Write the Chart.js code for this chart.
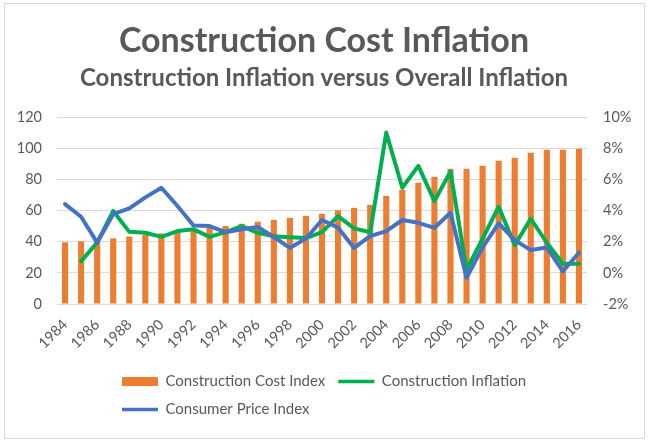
<!DOCTYPE html>
<html>
<head>
<meta charset="utf-8">
<title>Construction Cost Inflation</title>
<script src="https://cdn.jsdelivr.net/npm/chart.js@4.4.1/dist/chart.umd.min.js"></script>
<style>
  html, body { margin: 0; padding: 0; background: #fff; }
  #wrap { position: relative; width: 648px; height: 442px; }
  #frame {
    position: absolute; left: 4px; top: 3px; width: 639px; height: 434px;
    border: 1px solid #d9d9d9; pointer-events: none;
  }
</style>
</head>
<body>
<div id="wrap">
  <canvas id="costChart" width="648" height="442"></canvas>
  <div id="frame"></div>
</div>
<script>
const years = [
  "1984", "1985", "1986", "1987", "1988", "1989", "1990", "1991", "1992", "1993", "1994",
  "1995", "1996", "1997", "1998", "1999", "2000", "2001", "2002", "2003", "2004", "2005",
  "2006", "2007", "2008", "2009", "2010", "2011", "2012", "2013", "2014", "2015", "2016"
];

// Construction Cost Index (left axis)
const costIndex = [
  39.6, 40.2, 41.1, 42.1, 43.3, 44.4, 45.3, 46.4, 47.7, 48.8, 50.1,
  51.5, 52.8, 54.0, 55.3, 56.6, 57.9, 60.2, 61.7, 63.6, 69.4, 73.3,
  77.8, 81.6, 86.8, 86.8, 88.7, 91.9, 93.9, 97.1, 99.0, 99.0, 99.6
];

// Construction Inflation, % (right axis)
const constructionInflation = [
  null, 0.75, 1.94, 3.97, 2.63, 2.57, 2.31, 2.68, 2.79, 2.31, 2.61,
  3.0, 2.57, 2.34, 2.29, 2.23, 2.61, 3.64, 2.85, 2.6, 9.0, 5.46,
  6.86, 4.6, 6.5, 0.2, 2.2, 4.24, 1.78, 3.47, 1.93, 0.58, 0.58
];

// Consumer Price Index, % (right axis)
const consumerPrice = [
  4.41, 3.6, 1.94, 3.76, 4.14, 4.84, 5.46, 4.29, 3.04, 3.0, 2.61,
  2.8, 2.94, 2.3, 1.6, 2.2, 3.39, 2.9, 1.6, 2.36, 2.68, 3.39,
  3.21, 2.89, 3.86, -0.32, 1.64, 3.17, 2.1, 1.46, 1.62, 0.1, 1.29
];

const grey = "#595959";
const gridGrey = "#d9d9d9";
const fontFamily = "Lato, 'Open Sans', sans-serif";

// legend in two left-aligned rows under the axis, like the spreadsheet one
const legendRows = {
  id: "legendRows",
  afterInit(chart) {
    const legend = chart.legend;
    const fit = legend.fit;
    legend.fit = function () {
      fit.call(this);
      this.height = 81;
    };
  },
  afterLayout(chart) {
    chart.legend.left = 109;
    chart.legend.right = 600;
  }
};

const ctx = document.getElementById("costChart").getContext("2d");

new Chart(ctx, {
  type: "bar",
  data: {
    labels: years,
    datasets: [
      {
        label: "Construction Cost Index",
        data: costIndex,
        backgroundColor: "#ed7d31",
        yAxisID: "y",
        order: 3,
        categoryPercentage: 1,
        barPercentage: 0.38,
        pointStyle: "rect"
      },
      {
        type: "line",
        label: "Construction Inflation",
        data: constructionInflation,
        borderColor: "#00b050",
        backgroundColor: "#00b050",
        borderWidth: 4,
        borderJoinStyle: "round",
        borderCapStyle: "round",
        tension: 0,
        pointRadius: 0,
        pointHoverRadius: 0,
        pointStyle: "line",
        pointBorderWidth: 3.5,
        pointBorderColor: "#00b050",
        yAxisID: "y1",
        order: 2
      },
      {
        type: "line",
        label: "Consumer Price Index",
        data: consumerPrice,
        borderColor: "#4472c4",
        backgroundColor: "#4472c4",
        borderWidth: 4,
        borderJoinStyle: "round",
        borderCapStyle: "round",
        tension: 0,
        pointRadius: 0,
        pointHoverRadius: 0,
        pointStyle: "line",
        pointBorderWidth: 3.5,
        pointBorderColor: "#4472c4",
        yAxisID: "y1",
        order: 1
      }
    ]
  },
  options: {
    responsive: false,
    animation: false,
    layout: { padding: 0 },
    scales: {
      x: {
        offset: true,
        grid: { display: false },
        border: { display: false },
        ticks: {
          autoSkip: false,
          minRotation: 45,
          maxRotation: 45,
          padding: 4,
          color: grey,
          font: { family: fontFamily, size: 14.5 },
          callback: (value, i) => (i % 2 === 0 ? years[i] : "")
        },
        afterFit: (scale) => { scale.height = 57; }
      },
      y: {
        position: "left",
        min: 0,
        max: 120,
        ticks: {
          stepSize: 20,
          padding: 15,
          color: grey,
          font: { family: fontFamily, size: 14.5 }
        },
        grid: { color: gridGrey, drawTicks: false },
        border: { display: false },
        afterFit: (scale) => { scale.width = 57; }
      },
      y1: {
        position: "right",
        min: -2,
        max: 10,
        ticks: {
          stepSize: 2,
          padding: 16,
          color: grey,
          font: { family: fontFamily, size: 14.5 },
          callback: (v) => v + "%"
        },
        grid: { display: false, drawTicks: false },
        border: { display: false },
        afterFit: (scale) => { scale.width = 61; }
      }
    },
    plugins: {
      title: {
        display: true,
        text: "Construction Cost Inflation",
        color: grey,
        font: { family: fontFamily, size: 34, weight: "bold", lineHeight: 1.2 },
        padding: { top: 20.6, bottom: 0 }
      },
      subtitle: {
        display: true,
        text: "Construction Inflation versus Overall Inflation",
        color: grey,
        font: { family: fontFamily, size: 24, weight: "bold", lineHeight: 1.2 },
        padding: { top: 2.5, bottom: 24.3 }
      },
      legend: {
        position: "bottom",
        align: "start",
        labels: {
          usePointStyle: true,
          pointStyleWidth: 36,
          boxHeight: 9,
          padding: 13,
          color: grey,
          font: { family: fontFamily, size: 15 },
          sort: (a, b) => a.datasetIndex - b.datasetIndex
        }
      },
      tooltip: { enabled: false }
    }
  },
  plugins: [legendRows]
});
</script>
</body>
</html>
